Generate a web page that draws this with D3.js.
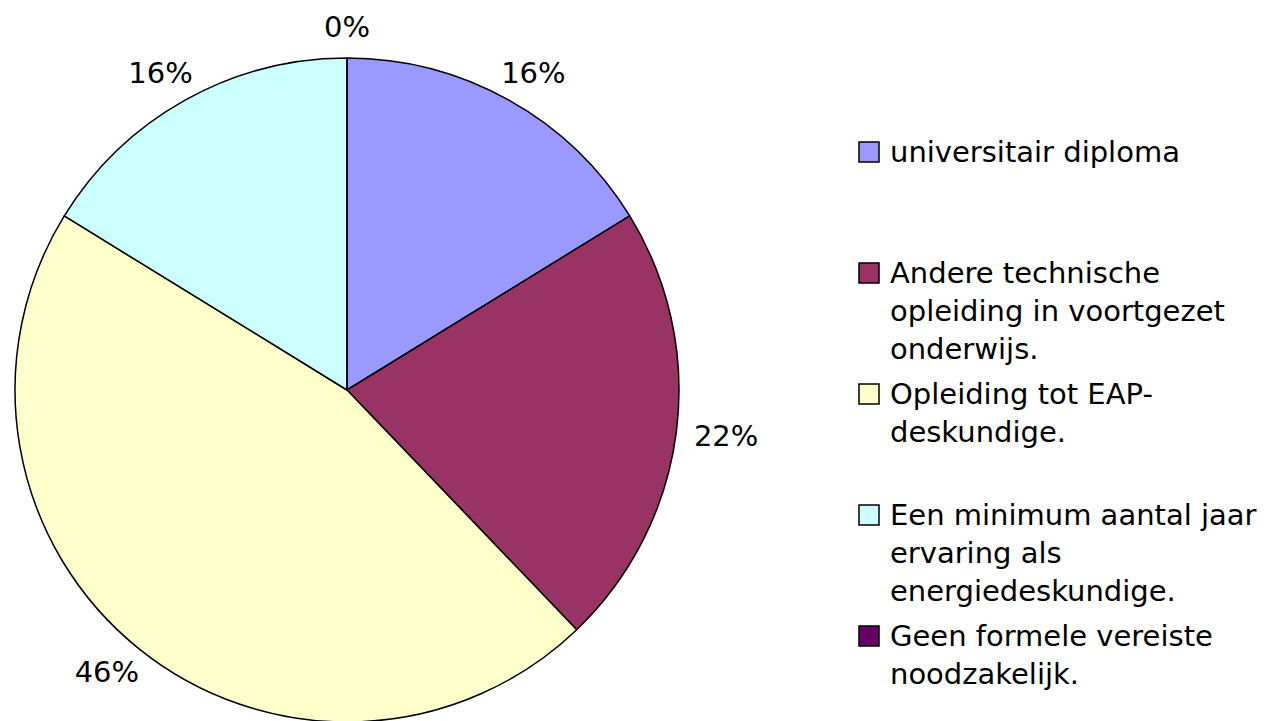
<!DOCTYPE html>
<html>
<head>
<meta charset="utf-8">
<script src="https://cdn.jsdelivr.net/npm/d3@7"></script>
<style>
  body { margin: 0; background: #fff; }
  text { font-family: "DejaVu Sans", sans-serif; fill: #000; }
</style>
</head>
<body>
<svg id="chart" width="1277" height="721"></svg>
<script>
// answers (counts)
const categories = [
    "universitair diploma",
    "Andere technische opleiding in voortgezet onderwijs.",
    "Opleiding tot EAP-deskundige.",
    "Een minimum aantal jaar ervaring als energiedeskundige.",
    "Geen formele vereiste noodzakelijk."
];
const values = [6, 8, 17, 6, 0];
const colors = ["#9999FF", "#993366", "#FFFFCC", "#CCFFFF", "#660066"];

const width = 1277;
const height = 721;
const cx = 347, cy = 390, radius = 332;
const fontSize = 29;

const svg = d3.select("#chart");

const total = d3.sum(values);
const pie = d3.pie().sort(null).value(d => d);
const arcs = pie(values);

const arc = d3.arc().innerRadius(0).outerRadius(radius);

const g = svg.append("g")
    .attr("transform", "translate(" + cx + "," + cy + ")");

g.selectAll(".slice")
    .data(arcs)
    .enter()
    .append("path")
    .attr("class", "slice")
    .attr("d", arc)
    .attr("fill", (d, i) => colors[i])
    .attr("stroke", "#000")
    .attr("stroke-width", 1.5)
    .attr("stroke-linejoin", "round");

// percentage labels, box edge sits just outside the rim
const labelR = 350;
const fmt = d3.format(".0%");
g.selectAll(".pct")
    .data(arcs)
    .enter()
    .append("text")
    .attr("class", "pct")
    .attr("font-size", fontSize)
    .attr("text-anchor", "middle")
    .attr("dominant-baseline", "central")
    .text(d => fmt(d.data / total))
    .each(function (d) {
        const a = (d.startAngle + d.endAngle) / 2;
        const w = this.getComputedTextLength();
        const h = 26;
        const x = Math.sin(a) * labelR + Math.sin(a) * w / 2;
        const y = -Math.cos(a) * labelR - Math.cos(a) * h / 2;
        d3.select(this).attr("x", x).attr("y", y);
    });

// legend
const legendX = 859;
const box = 20;
const lineH = 38;
const maxTextW = 395;
const legendY = d3.scalePoint()
    .domain(d3.range(categories.length))
    .range([152, 636]);

const legend = svg.append("g");

const items = legend.selectAll(".item")
    .data(categories)
    .enter()
    .append("g")
    .attr("class", "item")
    .attr("transform", (d, i) => "translate(" + legendX + "," + legendY(i) + ")");

items.append("rect")
    .attr("x", 0)
    .attr("y", -box / 2)
    .attr("width", box)
    .attr("height", box)
    .attr("fill", (d, i) => colors[i])
    .attr("stroke", "#000")
    .attr("stroke-width", 1.5);

items.append("text")
    .attr("font-size", fontSize)
    .attr("dominant-baseline", "central")
    .each(function (d) {
        wrapText(d3.select(this), d, 31, maxTextW);
    });

function wrapText(sel, str, x, maxW) {
    // split on spaces, and after hyphens
    const tokens = str.match(/[^\s-]+-?/g);
    const pieces = [];
    let rest = str;
    tokens.forEach(t => {
        const idx = rest.indexOf(t);
        rest = rest.slice(idx + t.length);
        pieces.push({ t: t, space: rest.startsWith(" ") });
    });
    const lines = [];
    let cur = "";
    const probe = sel.append("tspan");
    pieces.forEach((p, k) => {
        const prev = k > 0 && pieces[k - 1].space ? " " : "";
        const trial = cur === "" ? p.t : cur + prev + p.t;
        probe.text(trial);
        if (cur !== "" && probe.node().getComputedTextLength() > maxW) {
            lines.push(cur);
            cur = p.t;
        } else {
            cur = trial;
        }
    });
    lines.push(cur);
    probe.remove();
    lines.forEach((l, i) => {
        sel.append("tspan")
            .attr("x", x)
            .attr("y", i * lineH)
            .text(l);
    });
}
</script>
</body>
</html>
